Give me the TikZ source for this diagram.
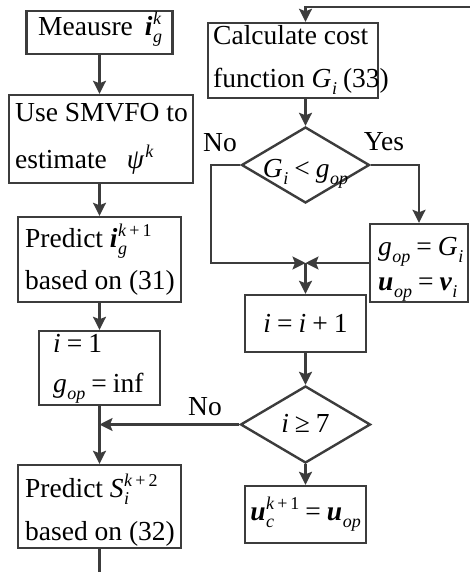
\documentclass[tikz,border=0pt]{standalone}
\usepackage{fontspec}
\setmainfont{Liberation Serif}
\usetikzlibrary{arrows.meta,shapes.geometric}
\definecolor{lc}{RGB}{60,60,60}
\newcommand\mi[1]{\textit{#1}}
\newcommand\bi[1]{\textbf{\textit{#1}}}
\newcommand\scr{\fontsize{18}{18}\selectfont}
\newcommand\fs{\fontsize{27.5}{33}\selectfont}
% base with superscript and subscript
\newcommand\SupSub[3]{#1\kern0.5pt\setbox0\hbox{\raisebox{11pt}{\scr #2}}\setbox2\hbox{\raisebox{-7pt}{\scr #3}}\ifdim\wd0>\wd2 \rlap{\box2}\box0\else\rlap{\box0}\box2\fi}
\newcommand\Sb[2]{#1\kern0.5pt\raisebox{-7pt}{\scr #2}}
\newcommand\Sp[2]{#1\kern1pt\raisebox{11pt}{\scr #2}}
\newcommand\rel[1]{\hspace{6pt}#1\hspace{6pt}}
\begin{document}
\begin{tikzpicture}[x=1pt,y=-1pt,
  box/.style={draw=lc,line width=2.4pt,rectangle,inner sep=0pt},
  dia/.style={draw=lc,line width=2.4pt,diamond,inner sep=0pt},
  txt/.style={inner sep=0pt,anchor=base west,font=\fs},
  ctxt/.style={inner sep=0pt,anchor=base,font=\fs},
  ln/.style={draw=lc,line width=2.4pt},
  arr/.style={ln,-{Stealth[length=13pt,width=13pt,inset=2.5pt]}}]
\useasboundingbox (0,0) rectangle (469,572);
% left column
\node[box,minimum width=146,minimum height=43] (m) at (99.5,32.5) {};
\node[box,minimum width=184,minimum height=88] (u) at (101,139) {};
\node[box,minimum width=163,minimum height=85] (p1) at (99.5,259.5) {};
\node[box,minimum width=121,minimum height=74] (b1) at (99.5,368) {};
\node[box,minimum width=163,minimum height=83] (p2) at (99.5,506.5) {};
% right column
\node[box,minimum width=170,minimum height=75] (c) at (293,60.5) {};
\node[dia,minimum width=128,minimum height=76] (d1) at (305.5,165) {};
\node[box,minimum width=98,minimum height=78] (r) at (419,263) {};
\coordinate (j) at (305.5,263);
\coordinate (nl) at (211,165);
\node[box,minimum width=121,minimum height=57] (inc) at (305.5,323.5) {};
\node[dia,minimum width=130,minimum height=77] (d2) at (305.5,424.5) {};
\node[box,minimum width=121,minimum height=57] (uc) at (305.5,514.5) {};
\coordinate (tr) at (470,7);
\coordinate (bot) at (99.5,573);
% texts
\node[txt] (mt) at (38,36) {Meausre\hspace{12pt}\SupSub{\bi{i}}{\mi{k}}{\mi{g}}};
\node[txt] (ut1) at (15,122) {Use SMVFO to};
\node[txt] (ut2) at (15,168) {estimate\hspace{20pt}\Sp{\textit{ψ}}{\mi{k}}};
\node[txt] (p1t1) at (25,247) {Predict \SupSub{\bi{i}}{\mi{k}\,+\,1}{\mi{g}}};
\node[txt] (p1t2) at (25,289) {based on (31)};
\node[txt] (b1t1) at (53,352) {\mi{i}\rel{=}1};
\node[txt] (b1t2) at (53,392) {\Sb{\mi{g}}{\mi{op}}\rel{=}inf};
\node[txt] (p2t1) at (25,497) {Predict \SupSub{\mi{S}}{\mi{k}\,+\,2}{\mi{i}}};
\node[txt] (p2t2) at (25,540) {based on (32)};
\node[txt] (ct1) at (213,45) {Calculate cost};
\node[txt] (ct2) at (213,88) {function \Sb{\mi{G}}{\mi{i}}\hspace{6pt}(33)};
\node[ctxt] (d1t) at (305.5,177) {\Sb{\mi{G}}{\mi{i}}\rel{<}\Sb{\mi{g}}{\mi{op}}};
\node[txt] (rt1) at (378,255) {\Sb{\mi{g}}{\mi{op}}\rel{=}\Sb{\mi{G}}{\mi{i}}};
\node[txt] (rt2) at (378,290) {\Sb{\bi{u}}{\mi{op}}\rel{=}\Sb{\bi{v}}{\mi{i}}};
\node[ctxt] (inct) at (305.5,332) {\mi{i}\rel{=}\mi{i}\rel{+}1};
\node[ctxt] (d2t) at (305.5,432) {\mi{i}\rel{≥}7};
\node[ctxt] (uct) at (305.5,520) {\SupSub{\bi{u}}{\mi{k}\,+\,1}{\mi{c}}\rel{=}\Sb{\bi{u}}{\mi{op}}};
\node[ctxt] (no1) at (220,152) {No};
\node[ctxt] (yes1) at (384,150) {Yes};
\node[ctxt] (no2) at (205,415) {No};
% connectors
\draw[arr] (m.south) -- (m.south |- u.north);
\draw[arr] (p1.north |- u.south) -- (p1.north);
\draw[arr] (p1.south) -- (b1.north);
\draw[arr] (b1.south) -- (p2.north);
\draw[ln] (p2.south) -- (bot);
\draw[arr] (tr) -- (tr -| d1.north) -- (c.north -| d1.north);
\draw[arr] (c.south -| d1.north) -- (d1.north);
\draw[arr] (d1.east) -- (d1.east -| r.north) -- (r.north);
\draw[arr] (d1.west) -- (nl) |- (j);
\draw[arr] (r.west) -- (j);
\draw[arr] (j) -- (inc.north);
\draw[arr] (inc.south) -- (d2.north);
\draw[arr] (d2.west) -- (d2.west -| b1.south);
\draw[arr] (d2.south) -- (uc.north);
\end{tikzpicture}
\end{document}
